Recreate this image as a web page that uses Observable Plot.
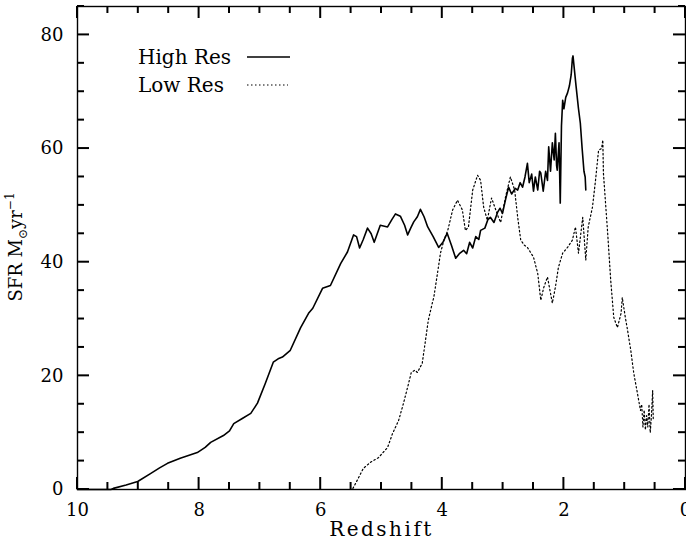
<!DOCTYPE html>
<html><head><meta charset="utf-8">
<script src="https://cdn.jsdelivr.net/npm/d3@7"></script>
<script src="https://cdn.jsdelivr.net/npm/@observablehq/plot@0.6"></script>
<style>body{margin:0;background:#fff;}</style>
</head><body><div id="chart"></div>
<script>
// High Res (solid) : redshift vs SFR
const hiZ = [10,9.45,9.41,9.2,9.01,8.8,8.65,8.52,8.31,8.03,7.9,7.81,7.6,7.5,7.43,7.29,7.15,7.04,6.91,6.78,6.7,6.63,6.5,6.33,6.2,6.13,5.97,5.84,5.67,5.56,5.46,5.41,5.36,5.3,5.23,5.17,5.12,5.07,5.02,4.9,4.83,4.77,4.69,4.62,4.57,4.52,4.47,4.41,4.36,4.3,4.24,4.15,4.06,3.99,3.92,3.85,3.78,3.72,3.65,3.6,3.55,3.5,3.45,3.4,3.37,3.3,3.25,3.21,3.15,3.09,3.05,3.01,2.96,2.91,2.86,2.8,2.76,2.72,2.68,2.64,2.6,2.57,2.53,2.5,2.47,2.43,2.4,2.38,2.34,2.3,2.27,2.25,2.22,2.19,2.16,2.14,2.12,2.11,2.08,2.06,2.04,2.02,2.0,1.97,1.94,1.91,1.88,1.86,1.85,1.84,1.8,1.76,1.73,1.7,1.67,1.65,1.64];
const hiSFR = [0,0,0.2,0.8,1.4,2.8,3.8,4.6,5.5,6.5,7.4,8.3,9.5,10.3,11.6,12.5,13.4,15.2,18.7,22.4,23,23.3,24.5,28.5,31,31.9,35.4,35.9,39.8,41.8,44.8,44.5,42.5,44,46,45,43.5,45,46.5,46.2,47.5,48.5,48.1,46.5,44.8,46,47.1,48,49.3,48,46.2,44.5,42.6,43.5,45.1,43,40.7,41.5,42.1,41.5,43.5,42.5,44.5,44,45.6,46,47.5,47.9,47,48.8,49.5,48.6,51,53.2,52,53,52.7,54,53.2,55,57.4,54,55.5,52.5,55,52.7,56,55.7,52.5,56,54.4,60.3,56,61,58,62.7,57,56.2,61,50.4,64,68.5,67,69,69.8,71,73,75.9,76.3,75.2,71,67,64.5,60,56,55,52.7];

// Low Res (dotted)
const loZ = [10,5.5,5.48,5.4,5.3,5.18,5.05,4.9,4.82,4.72,4.64,4.57,4.51,4.45,4.41,4.33,4.28,4.23,4.16,4.14,4.08,4.03,3.97,3.91,3.83,3.75,3.67,3.62,3.57,3.5,3.42,3.37,3.32,3.26,3.19,3.12,3.08,3.04,2.96,2.88,2.81,2.76,2.71,2.65,2.6,2.5,2.43,2.38,2.33,2.27,2.19,2.14,2.09,2.02,1.94,1.86,1.81,1.76,1.69,1.64,1.6,1.53,1.48,1.43,1.38,1.36,1.35,1.28,1.23,1.18,1.12,1.06,1.04,0.99,0.96,0.9,0.85,0.79,0.74,0.72,0.7,0.68,0.66,0.64,0.62,0.6,0.58,0.56,0.54,0.53];
const loSFR = [0,0,0,1.6,3.7,4.8,5.6,7.4,9.8,12.1,15.1,18,20.6,21,20.6,22.2,26,29.8,33,33.8,38,41.6,44,45.6,49.2,50.9,49.2,45.6,46.2,52.7,55.3,54.4,49.7,47.4,51.3,49.2,48,47,51.5,55,52.7,47.9,43.9,43,42.6,40.9,38,33.3,35.6,37.4,32.8,35.6,39.1,41.6,42.6,43.9,46.2,41.6,47.9,40.4,46.2,49.7,54.4,59.7,60,61.5,55.7,45.1,36.8,30.3,28.5,31,33.8,30.3,28.5,24.5,20.4,16.9,13.9,15,11,14,10.5,13,11,15,10,13,17.4,12.2];

const xMajor = [10,8,6,4,2,0];
const xMinor = [9.5,9,8.5,7.5,7,6.5,5.5,5,4.5,3.5,3,2.5,1.5,1,0.5];
const yMajor = [0,20,40,60,80];
const yMinor = [5,10,15,25,30,35,45,50,55,65,70,75,85];

const hi = hiZ.map((z,i)=>({z, sfr: hiSFR[i]}));
const lo = loZ.map((z,i)=>({z, sfr: loSFR[i]}));

const W = 686, H = 546, mL = 77, mR = 1, mT = 6, mB = 57;
const big = 12, small = 7;

const plot = Plot.plot({
  width: W, height: H,
  marginLeft: mL, marginRight: mR, marginTop: mT, marginBottom: mB,
  style: {fontFamily: "DejaVu Serif", fontSize: "18px", background: "white", color: "black", overflow: "visible"},
  x: {domain: [10, 0], label: null},
  y: {domain: [0, 85], label: null},
  marks: [
    Plot.line(lo, {x: "z", y: "sfr", stroke: "black", strokeWidth: 1.2, strokeDasharray: "1.5,2.5"}),
    Plot.line(hi, {x: "z", y: "sfr", stroke: "black", strokeWidth: 1.6}),
    Plot.frame({stroke: "black", strokeWidth: 1.4}),
    Plot.axisX(xMajor, {tickSize: 0, tickPadding: 14, fontSize: 18, label: null}),
    Plot.axisY(yMajor, {tickSize: 0, tickPadding: 14, fontSize: 18, label: null}),
    Plot.text(["Redshift"], {frameAnchor: "bottom", dy: 46, fontSize: 20})
  ]
});

const svg = d3.select(plot);
svg.selectAll("text").filter(function(){ return this.textContent === "Redshift"; })
   .attr("letter-spacing", 2.5);

// inward ticks on all four sides, positioned through Plot's own scales
const sx = plot.scale("x"), sy = plot.scale("y");
const xr = sx.range, yr = sy.range;
const xL = Math.min(xr[0], xr[1]), xR = Math.max(xr[0], xr[1]);
const yB = Math.max(yr[0], yr[1]), yT = Math.min(yr[0], yr[1]);
const ns = "http://www.w3.org/2000/svg";
function ln(a, b, c, d) {
  const l = document.createElementNS(ns, "line");
  l.setAttribute("x1", a); l.setAttribute("y1", b);
  l.setAttribute("x2", c); l.setAttribute("y2", d);
  l.setAttribute("stroke", "#000"); l.setAttribute("stroke-width", "2");
  plot.appendChild(l);
}
function xt(vals, len) {
  vals.forEach(v => {
    const px = sx.apply(v);
    ln(px, yB, px, yB - len);
    ln(px, yT, px, yT + len);
  });
}
function yt(vals, len) {
  vals.forEach(v => {
    const py = sy.apply(v);
    ln(xL, py, xL + len, py);
    ln(xR, py, xR - len, py);
  });
}
xt(xMajor, big); xt(xMinor, small);
yt(yMajor, big); yt(yMinor, small);

// y-axis label
const yl = svg.append("text")
  .attr("transform", "translate(22,247) rotate(-90)")
  .attr("text-anchor", "middle")
  .attr("font-family", "DejaVu Serif")
  .attr("font-size", 18)
  .attr("fill", "black");
yl.append("tspan").text("SFR M");
yl.append("tspan").attr("font-size", 12).attr("dy", 5).text("⊙");
yl.append("tspan").attr("dy", -5).text("yr");
yl.append("tspan").attr("font-size", 12).attr("dy", -8).text("−1");

// legend
const lg = svg.append("g").attr("font-family", "DejaVu Serif").attr("font-size", 20)
  .attr("fill", "black").attr("text-anchor", "start");
lg.append("text").attr("x", 138).attr("y", 64).text("High Res");
lg.append("text").attr("x", 138).attr("y", 92).text("Low Res");
lg.append("line").attr("x1", 247).attr("x2", 290).attr("y1", 57).attr("y2", 57)
  .attr("stroke", "black").attr("stroke-width", 1.6);
lg.append("line").attr("x1", 247).attr("x2", 288).attr("y1", 85).attr("y2", 85)
  .attr("stroke", "black").attr("stroke-width", 1.2).attr("stroke-dasharray", "1.5,2.5");

document.getElementById("chart").appendChild(plot);
</script>
</body></html>
